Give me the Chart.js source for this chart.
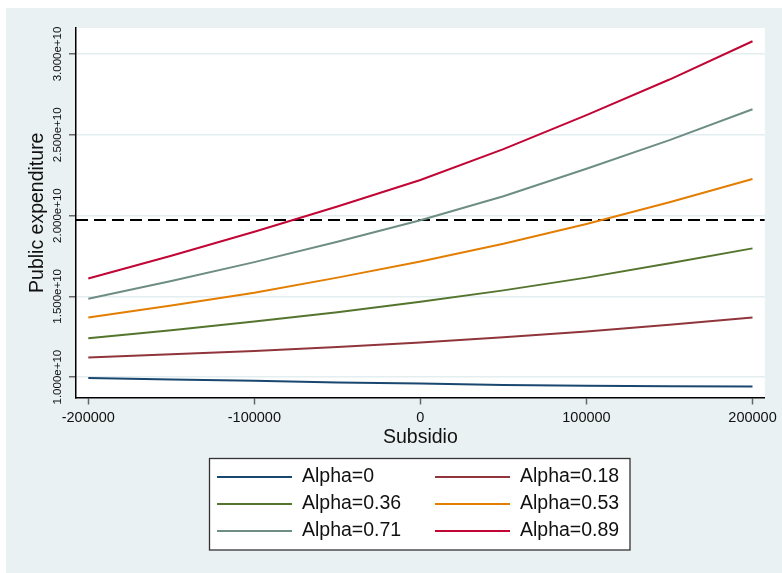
<!DOCTYPE html>
<html>
<head>
<meta charset="utf-8">
<script src="https://cdn.jsdelivr.net/npm/chart.js@4"></script>
<style>
  html, body { margin: 0; padding: 0; background: #fff; overflow: hidden; }
  canvas { display: block; }
</style>
</head>
<body>
<canvas id="chart" width="782" height="573"></canvas>
<script>
// Subsidio (x axis)
const subsidio = [-200000, -150000, -100000, -50000, 0, 50000, 100000, 150000, 200000];

// Public expenditure per alpha
const alpha0   = [0.994e10, 0.985e10, 0.977e10, 0.967e10, 0.960e10, 0.952e10, 0.946e10, 0.944e10, 0.942e10];
const alpha018 = [1.122e10, 1.141e10, 1.162e10, 1.187e10, 1.214e10, 1.247e10, 1.282e10, 1.324e10, 1.369e10];
const alpha036 = [1.241e10, 1.290e10, 1.344e10, 1.402e10, 1.467e10, 1.537e10, 1.616e10, 1.705e10, 1.797e10];
const alpha053 = [1.369e10, 1.444e10, 1.523e10, 1.616e10, 1.716e10, 1.826e10, 1.948e10, 2.083e10, 2.226e10];
const alpha071 = [1.485e10, 1.595e10, 1.712e10, 1.838e10, 1.971e10, 2.120e10, 2.290e10, 2.467e10, 2.658e10];
const alpha089 = [1.610e10, 1.751e10, 1.900e10, 2.056e10, 2.220e10, 2.411e10, 2.622e10, 2.842e10, 3.079e10];

const seriesLabels = ["Alpha=0", "Alpha=0.18", "Alpha=0.36", "Alpha=0.53", "Alpha=0.71", "Alpha=0.89"];

// dashed reference level
const refLevel = 1.972e10;

// axes
const xTicks = [-200000, -100000, 0, 100000, 200000];
const xTickLabels = ["-200000", "-100000", "0", "100000", "200000"];
const yTicks = [1.0e10, 1.5e10, 2.0e10, 2.5e10, 3.0e10];
const yTickLabels = ["1.000e+10", "1.500e+10", "2.000e+10", "2.500e+10", "3.000e+10"];
const xMin = -207400, xMax = 207400;
const yMin = 0.874e10, yMax = 3.161e10;

const FONT = "'Liberation Sans', Arial, sans-serif";
const colors = ["#1a476f", "#90353b", "#55752f", "#e37e00", "#6e8e84", "#c10534"];

const allSeries = [alpha0, alpha018, alpha036, alpha053, alpha071, alpha089];

const datasets = allSeries.map((vals, i) => ({
  label: seriesLabels[i],
  data: subsidio.map((x, j) => ({ x: x, y: vals[j] })),
  borderColor: colors[i],
  borderWidth: 2,
  pointRadius: 0,
  tension: 0,
  fill: false,
}));

datasets.push({
  label: "ref",
  refLine: true,
  data: [{ x: xMin, y: refLevel }, { x: xMax, y: refLevel }],
  borderColor: "#000",
  borderWidth: 2,
  borderDash: [12, 6],
  pointRadius: 0,
  fill: false,
});

// background, rotated y labels, titles and legend box
const stataLook = {
  id: "stataLook",
  beforeDraw(chart) {
    const { ctx, chartArea } = chart;
    ctx.save();
    ctx.fillStyle = "#ffffff";
    ctx.fillRect(0, 0, chart.width, chart.height);
    ctx.fillStyle = "#eaf1f3";
    ctx.fillRect(6, 8, chart.width - 6, chart.height - 8);
    ctx.fillStyle = "#ffffff";
    ctx.fillRect(chartArea.left, chartArea.top, chartArea.right - chartArea.left, chartArea.bottom - chartArea.top);
    ctx.restore();
  },
  afterDraw(chart) {
    const { ctx, chartArea, scales } = chart;
    ctx.save();
    ctx.fillStyle = "#111";

    // y tick labels, rotated
    ctx.font = "11.5px " + FONT;
    ctx.textAlign = "center";
    ctx.textBaseline = "middle";
    yTicks.forEach((v, i) => {
      const py = scales.y.getPixelForValue(v);
      ctx.save();
      ctx.translate(57.5, py);
      ctx.rotate(-Math.PI / 2);
      ctx.fillText(yTickLabels[i], 0, 0);
      ctx.restore();
    });

    // axis titles
    ctx.font = "19.5px " + FONT;
    ctx.save();
    ctx.translate(37.5, (chartArea.top + chartArea.bottom) / 2);
    ctx.rotate(-Math.PI / 2);
    ctx.fillText("Public expenditure", 0, 0);
    ctx.restore();
    ctx.textBaseline = "alphabetic";
    ctx.fillText("Subsidio", (chartArea.left + chartArea.right) / 2, 443);

    // legend
    ctx.fillStyle = "#fff";
    ctx.fillRect(209.5, 458.5, 420.5, 91.5);
    ctx.strokeStyle = "#333";
    ctx.lineWidth = 1.3;
    ctx.strokeRect(209.5, 458.5, 420.5, 91.5);
    ctx.font = "19.5px " + FONT;
    ctx.textAlign = "left";
    ctx.textBaseline = "middle";
    const items = chart.data.datasets.filter((d) => !d.refLine);
    items.forEach((d, i) => {
      const col = i % 2;
      const row = Math.floor(i / 2);
      const lx = col === 0 ? 217 : 435;
      const ly = 477 + row * 27;
      ctx.strokeStyle = d.borderColor;
      ctx.lineWidth = 2;
      ctx.beginPath();
      ctx.moveTo(lx, ly);
      ctx.lineTo(lx + 75, ly);
      ctx.stroke();
      ctx.fillStyle = "#111";
      ctx.fillText(d.label, lx + 85, ly);
    });
    ctx.restore();
  },
};

const ctx = document.getElementById("chart").getContext("2d");
const chart = new Chart(ctx, {
  type: "line",
  data: { datasets: datasets },
  options: {
    responsive: false,
    animation: false,
    events: [],
    layout: {
      autoPadding: false,
      padding: { left: 0, top: 28, right: 17, bottom: 130 },
    },
    plugins: {
      legend: { display: false },
      tooltip: { enabled: false },
    },
    scales: {
      x: {
        type: "linear",
        min: xMin,
        max: xMax,
        afterBuildTicks: (scale) => {
          scale.ticks = xTicks.map((v) => ({ value: v }));
        },
        afterFit: (scale) => {
          scale.height = 45.5;
        },
        ticks: {
          color: "#111",
          padding: 5,
          maxRotation: 0,
          font: { family: FONT, size: 14.5 },
          callback: (value) => xTickLabels[xTicks.indexOf(value)],
        },
        grid: {
          drawOnChartArea: false,
          drawTicks: true,
          tickLength: 7,
          tickColor: "#666",
          tickWidth: 1.5,
        },
        border: { color: "#000", width: 1.5 },
      },
      y: {
        type: "linear",
        min: yMin,
        max: yMax,
        afterBuildTicks: (scale) => {
          scale.ticks = yTicks.map((v) => ({ value: v }));
        },
        afterFit: (scale) => {
          scale.width = 76;
        },
        ticks: { display: false },
        grid: {
          color: "#e4edf0",
          lineWidth: 1.5,
          drawTicks: true,
          tickLength: 7,
          tickColor: "#666",
          tickWidth: 1.5,
        },
        border: { color: "#000", width: 1.5 },
      },
    },
  },
  plugins: [stataLook],
});
</script>
</body>
</html>
